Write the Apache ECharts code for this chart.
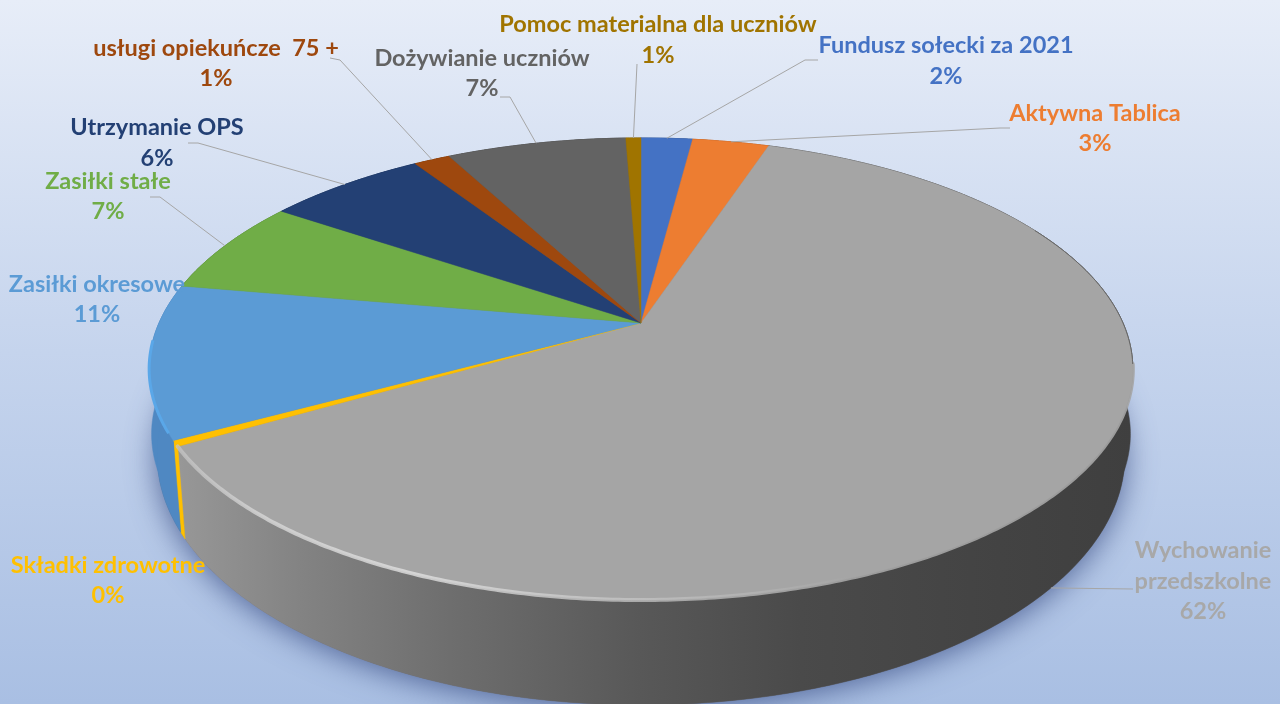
<!DOCTYPE html>
<html>
<head>
<meta charset="utf-8">
<style>html,body{margin:0;padding:0;overflow:hidden}#c{width:1280px;height:704px}</style>
<script src="https://cdn.jsdelivr.net/npm/echarts@6/dist/echarts.min.js"></script>
</head>
<body>
<div id="c"></div>
<script>
// ---- data (clockwise from 12 o'clock) ----
const categories = ['Fundusz sołecki za 2021','Aktywna Tablica','Wychowanie\nprzedszkolne','Składki zdrowotne','Zasiłki okresowe','Zasiłki stałe','Utrzymanie OPS','usługi opiekuńcze  75 +','Dożywianie uczniów','Pomoc materialna dla uczniów'];
const values = [2.05,3.05,61.55,0.4,10.7,6.7,6.35,1.45,7.15,0.6];
const colors = ['#4472c4','#ed7d31','#a5a5a5','#ffc000','#5b9bd5','#70ad47','#234074','#9e480e','#636363','#a07400'];
const wallColors = ['#34568f','#b55f25',null,'#ffc000','#4f88c2','#55843a','#1b3158','#783709','#4b4b4b','#7a5800'];

// ---- layout, separate from the data ----
const labelCenters = [[946,61],[1095,128.5],[1203,581],[108,580.5],[97,299.5],[108,196.5],[157,143],[216,63.5],[482,73.5],[658,40]];
const leaderBends = [[[805,60],[818,60]],[[1000,128],[1010,128]],[[1133,589]],null,null,[[160,197],[150,197]],[[198,143],[188,143]],[[340,60],[330,58]],[[510,97],[500,97]],[[637,64]]];
const leaderAnchor = [0.5,0.5,0.51,0.5,0.5,0.5,0.5,0.5,0.5,0.5];
const persp = 0.199;
const topFace = {cx:641,cy:323,a:482,b:221.9};
const midFace = {cx:641,cy:388,a:479.6,b:221.9};
const baseFace = {cx:641,cy:405.25,a:474.3,b:240.1};
const FONT = 'bold 23.5px Lato';

const total = values.reduce((a,b)=>a+b,0);
let acc = 0;
const spans = values.map(v=>{const s=[acc/total*Math.PI*2,(acc+v)/total*Math.PI*2];acc+=v;return s;});
function proj(t,m){const u=Math.sin(t),v=-Math.cos(t),d=1-persp*v;return [m.cx+m.a*u/d,m.cy+m.b*v/d];}
function arc(t0,t1,m){const n=Math.max(2,Math.ceil((t1-t0)/0.01));const p=[];for(let i=0;i<=n;i++)p.push(proj(t0+(t1-t0)*i/n,m));return p;}
const hGrad=(stops)=>new echarts.graphic.LinearGradient(150,0,1135,0,stops.map(s=>({offset:(s[0]-150)/985,color:s[1]})),true);
const grayWall=hGrad([[150,'#9c9c9c'],[300,'#838383'],[450,'#6e6e6e'],[640,'#585858'],[800,'#4a4a4a'],[1000,'#434343'],[1135,'#3f3f3f']]);

function renderItem(params,api){
  const i=params.dataIndex,[t0,t1]=spans[i],kids=[];
  const top=arc(t0,t1,topFace),mid=arc(t0,t1,midFace),base=arc(t0,t1,baseFace);
  const wall=i===2?grayWall:wallColors[i];
  kids.push({type:'polygon',z2:1,shape:{points:top.concat(mid.slice().reverse())},style:{fill:wall,stroke:wall,lineWidth:0.5}});
  kids.push({type:'polygon',z2:1,shape:{points:top.concat(base.slice().reverse())},style:{fill:wall,stroke:wall,lineWidth:0.5}});
  kids.push({type:'polygon',z2:2,shape:{points:[[topFace.cx,topFace.cy]].concat(top)},style:{fill:colors[i],stroke:colors[i],lineWidth:0.5}});
  const anchor=t0+(t1-t0)*leaderAnchor[i];
  if(leaderBends[i]){
    const start=proj(anchor,i===2?baseFace:topFace);
    kids.push({type:'polyline',z2:4,shape:{points:[start].concat(leaderBends[i])},style:{stroke:'#a6a6a6',lineWidth:1,fill:null}});
  }
  const pct=Math.round(api.value(0)/total*100);
  kids.push({type:'text',z2:5,style:{text:categories[i]+'\n'+pct+'%',x:labelCenters[i][0],y:labelCenters[i][1],align:'center',verticalAlign:'middle',font:FONT,lineHeight:30.5,fill:i===2?'#a8a8a8':colors[i]}});
  return {type:'group',children:kids};
}
function renderShadow(){
  return {type:'polygon',z2:0,shape:{points:arc(0,Math.PI*2,baseFace)},style:{fill:'#667',shadowBlur:30,shadowColor:'rgba(50,70,125,0.75)',shadowOffsetY:4}};
}
function renderRim(params){
  const g=2,k=[];
  k.push({type:'polyline',z2:3,shape:{points:arc(1.75,spans[g][1],topFace)},style:{fill:null,lineWidth:4,lineCap:'round',stroke:hGrad([[150,'rgba(190,190,190,0.7)'],[260,'rgba(215,215,215,0.8)'],[420,'rgba(225,225,225,0.8)'],[650,'rgba(195,195,195,0.75)'],[850,'rgba(165,165,165,0.9)'],[1135,'rgba(165,165,165,0.9)']])}});
  k.push({type:'polyline',z2:3,shape:{points:arc(spans[4][0]+0.03,spans[4][1]-0.25,topFace)},style:{fill:null,lineWidth:3,stroke:'#5aa7e8'}});
  k.push({type:'polyline',z2:3,shape:{points:arc(1.1,1.75,topFace)},style:{fill:null,lineWidth:1,stroke:'#666666'}});
  return {type:'group',children:k};
}
const chart=echarts.init(document.getElementById('c'),null,{renderer:'canvas'});
chart.setOption({
  animation:false,
  backgroundColor:new echarts.graphic.LinearGradient(0,0,0,1,[{offset:0,color:'#e7edf8'},{offset:0.5,color:'#c5d4ed'},{offset:1,color:'#a9bfe3'}]),
  series:[
    {type:'custom',coordinateSystem:'none',silent:true,z:1,data:[0],renderItem:renderShadow},
    {type:'custom',name:'Wydatki',coordinateSystem:'none',silent:true,z:2,data:values.map((v,i)=>({name:categories[i],value:[v]})),renderItem:renderItem},
    {type:'custom',coordinateSystem:'none',silent:true,z:3,data:[0],renderItem:renderRim}
  ]
});
</script>
</body>
</html>
